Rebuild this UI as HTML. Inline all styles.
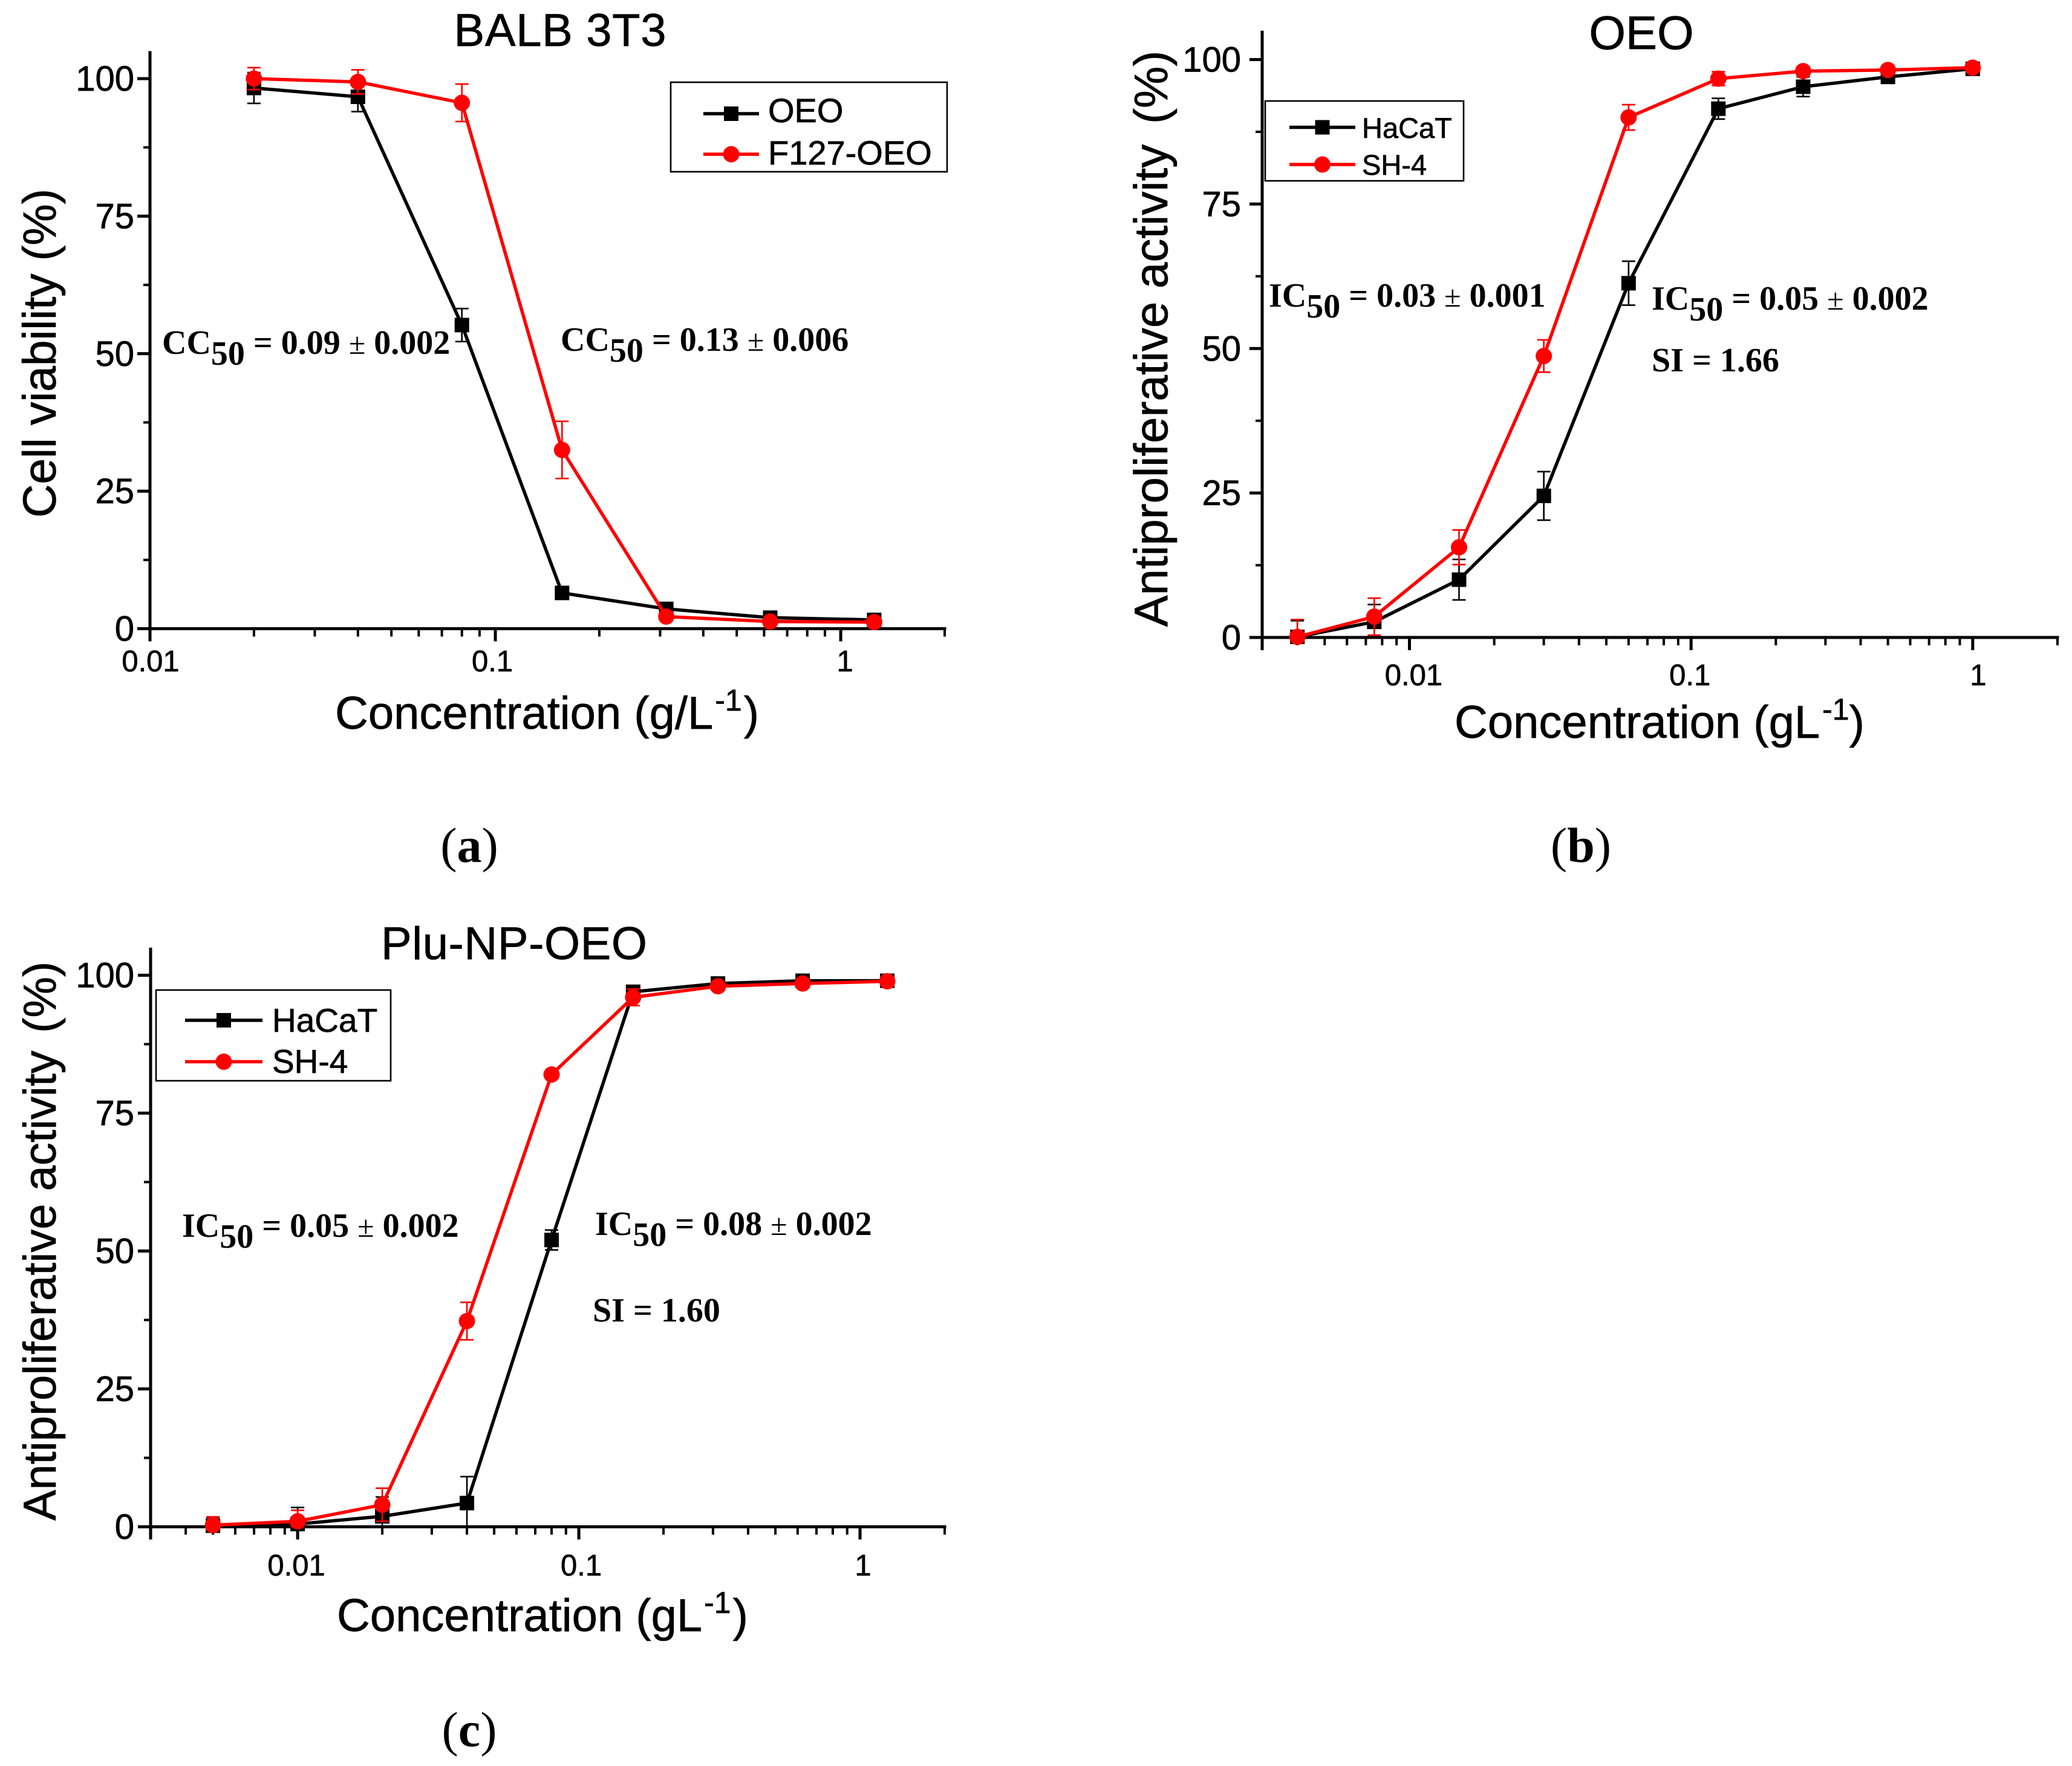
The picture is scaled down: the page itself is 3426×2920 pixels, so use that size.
<!DOCTYPE html>
<html lang="en">
<head>
<meta charset="utf-8">
<title>Dose-response charts</title>
<style>
html,body{margin:0;padding:0;background:#fff;}
svg{display:block;}
text{fill:#000;white-space:pre;}
.s{font-family:"Liberation Sans",sans-serif;stroke:#000;stroke-width:.7px;}
.t{font-family:"Liberation Serif",serif;font-weight:bold;font-size:56px;}
.c{font-family:"Liberation Serif",serif;font-size:82px;}
</style>
</head>
<body>
<svg id="fig" xmlns="http://www.w3.org/2000/svg" width="3426" height="2920" viewBox="0 0 3426 2920">
<rect width="3426" height="2920" fill="#fff"/>

<g id="panel-a">
<text class="s" x="926" y="76" font-size="76" text-anchor="middle" textLength="351" lengthAdjust="spacing">BALB 3T3</text>
<text class="s" x="554" y="1205" font-size="76">Concentration (g/L<tspan dy="-30" dx="3" font-size="50">-1</tspan><tspan dy="30" dx="3">)</tspan></text>
<text class="s" transform="translate(92,584) rotate(-90)" font-size="77" text-anchor="middle" textLength="544" lengthAdjust="spacing">Cell viability (%)</text>
<text class="t" x="268" y="585">CC<tspan dy="18">50</tspan><tspan dy="-18"> = 0.09 </tspan><tspan font-size="50" font-weight="normal">±</tspan> 0.002</text>
<text class="t" x="927" y="580">CC<tspan dy="18">50</tspan><tspan dy="-18"> = 0.13 </tspan><tspan font-size="50" font-weight="normal">±</tspan> 0.006</text>
<text class="c" x="776" y="1425" text-anchor="middle">(<tspan font-weight="bold">a</tspan>)</text>
</g>

<g id="panel-b">
<text class="s" x="2714" y="81" font-size="78" text-anchor="middle">OEO</text>
<text class="s" x="2405" y="1220" font-size="76">Concentration (gL<tspan dy="-30" dx="4" font-size="50">-1</tspan><tspan dy="30">)</tspan></text>
<text class="s" transform="translate(1930,560) rotate(-90)" font-size="78" text-anchor="middle">Antiproliferative activity<tspan dx="12"> (%)</tspan></text>
<text class="t" x="2098" y="507">IC<tspan dy="18">50</tspan><tspan dy="-18"> = 0.03 </tspan><tspan font-size="50" font-weight="normal">±</tspan> 0.001</text>
<text class="t" x="2731" y="512">IC<tspan dy="18">50</tspan><tspan dy="-18"> = 0.05 </tspan><tspan font-size="50" font-weight="normal">±</tspan> 0.002</text>
<text class="t" x="2731" y="614">SI = 1.66</text>
<text class="c" x="2614" y="1425" text-anchor="middle">(<tspan font-weight="bold">b</tspan>)</text>
</g>

<g id="panel-c">
<text class="s" x="850" y="1586" font-size="76" text-anchor="middle" textLength="440" lengthAdjust="spacing">Plu-NP-OEO</text>
<text class="s" x="557" y="2697" font-size="76">Concentration (gL<tspan dy="-30" dx="3" font-size="50">-1</tspan><tspan dy="30" dx="3">)</tspan></text>
<text class="s" transform="translate(92,2052) rotate(-90)" font-size="76" text-anchor="middle">Antiproliferative activity<tspan dx="8"> (%)</tspan></text>
<text class="t" x="301" y="2045">IC<tspan dy="18">50</tspan><tspan dy="-18"> = 0.05 </tspan><tspan font-size="50" font-weight="normal">±</tspan> 0.002</text>
<text class="t" x="984" y="2042">IC<tspan dy="18">50</tspan><tspan dy="-18"> = 0.08 </tspan><tspan font-size="50" font-weight="normal">±</tspan> 0.002</text>
<text class="t" x="980" y="2185">SI = 1.60</text>
<text class="c" x="776" y="2887" text-anchor="middle">(<tspan font-weight="bold">c</tspan>)</text>
</g>
</svg>

<script>
// Panel (a)
const concA = [0.02, 0.04, 0.08, 0.156, 0.3125, 0.625, 1.25];
const oeoA = [98.3, 96.7, 55.2, 6.5, 3.6, 2.0, 1.6];
const oeoErrA = [2.8, 2.7, 3.0, 0.5, 0.5, 0.5, 0.5];
const f127A = [100, 99.4, 95.6, 32.5, 2.2, 1.3, 1.2];
const f127ErrA = [2.0, 2.2, 3.4, 5.2, 0.5, 0.5, 0.5];
const xTicksA = [0.01, 0.1, 1];
const xLabelsA = ['0.01', '0.1', '1'];

// Panel (b)
const concB = [0.004, 0.0075, 0.015, 0.03, 0.06, 0.125, 0.25, 0.5, 1];
const hacatB = [0.1, 2.7, 10, 24.5, 61.3, 91.5, 95.3, 97, 98.4];
const hacatErrB = [2.8, 3, 3.5, 4.2, 3.8, 1.8, 1.7, 0.8, 0.5];
const sh4B = [0.1, 3.6, 15.6, 48.7, 90, 96.7, 98, 98.2, 98.6];
const sh4ErrB = [3, 3.2, 3, 2.8, 2.2, 1.2, 0.8, 0.6, 0.5];
const xTicksB = [0.01, 0.1, 1];
const xLabelsB = ['0.01', '0.1', '1'];

// Panel (c)
const concC = [0.005, 0.01, 0.02, 0.04, 0.08, 0.156, 0.3125, 0.625, 1.25];
const hacatC = [0.2, 0.5, 1.9, 4.3, 52, 97, 98.5, 99, 99];
const hacatErrC = [1.5, 3, 3.5, 4.8, 1.8, 0.7, 0.7, 0.7, 0.7];
const sh4C = [0.3, 1, 4, 37.3, 82, 96, 98, 98.5, 98.9];
const sh4ErrC = [1.5, 2, 3, 3.4, 0.5, 1.5, 0.6, 0.6, 0.6];
const xTicksC = [0.01, 0.1, 1];
const xLabelsC = ['0.01', '0.1', '1'];

// Shared y axis
const yTicks = [0, 25, 50, 75, 100];
const yMinorTicks = [12.5, 37.5, 62.5, 87.5];
const yLabels = ['0', '25', '50', '75', '100'];

const NS = 'http://www.w3.org/2000/svg';
function mk(parent, tag, attrs, text) {
  const n = document.createElementNS(NS, tag);
  for (const k in attrs) n.setAttribute(k, attrs[k]);
  if (text !== undefined) n.textContent = text;
  parent.appendChild(n);
  return n;
}
function logScale(dMin, dMax, r0, r1) {
  return v => r0 + (Math.log10(v) - Math.log10(dMin)) / (Math.log10(dMax) - Math.log10(dMin)) * (r1 - r0);
}
function linScale(dMin, dMax, r0, r1) {
  return v => r0 + (v - dMin) / (dMax - dMin) * (r1 - r0);
}

function drawAxes(g, cfg) {
  const x = cfg.x, y = cfg.y;
  const base = y(0), left = x(cfg.xMin), right = x(cfg.xMax), top = y(105);
  const ax = mk(g, 'line', {x1: left - 2.5, x2: right + 2.5, y1: base, y2: base, stroke: '#000', 'stroke-width': 5});
  
  
  const ay = mk(g, 'line', {x1: left, x2: left, y1: top, y2: base + 21, stroke: '#000', 'stroke-width': 5});
  
  

  yTicks.forEach((v, i) => {
    const t = mk(g, 'line', {x1: left - 21, x2: left, y1: y(v), y2: y(v), stroke: '#000', 'stroke-width': 5});
    
    
    const l = mk(g, 'text', {x: cfg.yLabelRight, y: y(v) + 20, 'font-size': 58, 'text-anchor': 'end', class: 's'}, yLabels[i]);
    
    
  });
  yMinorTicks.forEach(v => {
    const t = mk(g, 'line', {x1: left - 11, x2: left, y1: y(v), y2: y(v), stroke: '#000', 'stroke-width': 4});
    
    
  });

  // log minor ticks
  for (let e = -3; e <= 0; e++) {
    for (let m = 2; m <= 9; m++) {
      const v = m * Math.pow(10, e);
      if (v < cfg.xMin * 0.999 || v > cfg.xMax * 1.001) continue;
      const t = mk(g, 'line', {x1: x(v), x2: x(v), y1: base, y2: base + 13, stroke: '#000', 'stroke-width': 4});
      
      
    }
  }
  cfg.xTicks.forEach((v, i) => {
    const t = mk(g, 'line', {x1: x(v), x2: x(v), y1: base, y2: base + 21, stroke: '#000', 'stroke-width': 5});
    
    
    const l = mk(g, 'text', {x: x(v) + cfg.xLabelDx[i], y: cfg.xLabelY, 'font-size': 49, 'text-anchor': 'middle', class: 's'}, cfg.xLabels[i]);
    
    
  });
}

function marker(g, kind, cx, cy, color, size) {
  if (kind === 'square') {
    const m = mk(g, 'rect', {x: cx - size / 2, y: cy - size / 2, width: size, height: size, fill: color});
    
    
  } else {
    const m = mk(g, 'circle', {cx: cx, cy: cy, r: size / 2, fill: color});
    
    
  }
}

function drawSeries(g, cfg, xs, ys, errs, color, kind, name) {
  const x = cfg.x, y = cfg.y;
  const grp = mk(g, 'g', {});
  
  
  xs.forEach((v, i) => {
    const px = x(v);
    const hi = y(ys[i] + errs[i]);
    const lo = y(Math.max(0, ys[i] - errs[i]));
    const b = mk(grp, 'path', {d: 'M' + (px - 11) + ' ' + hi + 'H' + (px + 11) + 'M' + px + ' ' + hi + 'V' + lo + 'M' + (px - 11) + ' ' + lo + 'H' + (px + 11), stroke: color, 'stroke-width': 2.6, fill: 'none'});
    
    
  });
  const pts = xs.map((v, i) => x(v) + ',' + y(ys[i])).join(' ');
  const line = mk(grp, 'polyline', {points: pts, fill: 'none', stroke: color, 'stroke-width': 5.5, 'stroke-linejoin': 'round'});
  
  
  xs.forEach((v, i) => marker(grp, kind, x(v), y(ys[i]), color, kind === 'square' ? 24 : 27));
}

function drawLegend(g, box, rows) {
  const lg = mk(g, 'g', {});
  
  
  const r = mk(lg, 'rect', {x: box.x, y: box.y, width: box.w, height: box.h, fill: '#fff', stroke: '#000', 'stroke-width': 2.6});
  
  
  rows.forEach(row => {
    const l = mk(lg, 'line', {x1: box.lx0, x2: box.lx1, y1: row.y, y2: row.y, stroke: row.color, 'stroke-width': 5.5});
    
    
    marker(lg, row.kind, (box.lx0 + box.lx1) / 2, row.y, row.color, row.kind === 'square' ? 24 : 27);
    const t = mk(lg, 'text', {x: box.tx, y: row.baseline, 'font-size': box.font, class: 's'}, row.label);
    
    
  });
}

// Panel (a)
(function () {
  const g = document.getElementById('panel-a');
  const cfg = {
    x: logScale(0.01, 2, 248, 1562), y: linScale(0, 100, 1039.5, 130),
    xMin: 0.01, xMax: 2, xTicks: xTicksA, xLabels: xLabelsA,
    xLabelDx: [1, -5, 7], xLabelY: 1110, yLabelRight: 222
  };
  drawAxes(g, cfg);
  drawSeries(g, cfg, concA, oeoA, oeoErrA, '#000', 'square', 'series-oeo');
  drawSeries(g, cfg, concA, f127A, f127ErrA, '#f00', 'circle', 'series-f127-oeo');
  drawLegend(g, {x: 1109, y: 136, w: 457, h: 148, lx0: 1163, lx1: 1255, tx: 1270, font: 56}, [
    {y: 188, baseline: 202, color: '#000', kind: 'square', label: 'OEO'},
    {y: 255, baseline: 272, color: '#f00', kind: 'circle', label: 'F127-OEO'}
  ]);
})();

// Panel (b)
(function () {
  const g = document.getElementById('panel-b');
  const cfg = {
    x: logScale(0.003, 2, 2087, 3402), y: linScale(0, 100, 1054, 98.5),
    xMin: 0.003, xMax: 2, xTicks: xTicksB, xLabels: xLabelsB,
    xLabelDx: [7, -2, 9], xLabelY: 1133, yLabelRight: 2052
  };
  drawAxes(g, cfg);
  drawSeries(g, cfg, concB, hacatB, hacatErrB, '#000', 'square', 'series-hacat');
  drawSeries(g, cfg, concB, sh4B, sh4ErrB, '#f00', 'circle', 'series-sh-4');
  drawLegend(g, {x: 2092, y: 167, w: 328, h: 132, lx0: 2132, lx1: 2241, tx: 2252, font: 47}, [
    {y: 210.5, baseline: 228, color: '#000', kind: 'square', label: 'HaCaT'},
    {y: 272, baseline: 289, color: '#f00', kind: 'circle', label: 'SH-4'}
  ]);
})();

// Panel (c)
(function () {
  const g = document.getElementById('panel-c');
  const cfg = {
    x: logScale(0.003, 2, 249, 1562), y: linScale(0, 100, 2524.5, 1612.5),
    xMin: 0.003, xMax: 2, xTicks: xTicksC, xLabels: xLabelsC,
    xLabelDx: [-2, 4, 5], xLabelY: 2605, yLabelRight: 222
  };
  drawAxes(g, cfg);
  drawSeries(g, cfg, concC, hacatC, hacatErrC, '#000', 'square', 'series-hacat');
  drawSeries(g, cfg, concC, sh4C, sh4ErrC, '#f00', 'circle', 'series-sh-4');
  drawLegend(g, {x: 258, y: 1637, w: 388, h: 150, lx0: 306, lx1: 434, tx: 450, font: 55}, [
    {y: 1687, baseline: 1706, color: '#000', kind: 'square', label: 'HaCaT'},
    {y: 1755.5, baseline: 1774, color: '#f00', kind: 'circle', label: 'SH-4'}
  ]);
})();
</script>
</body>
</html>
